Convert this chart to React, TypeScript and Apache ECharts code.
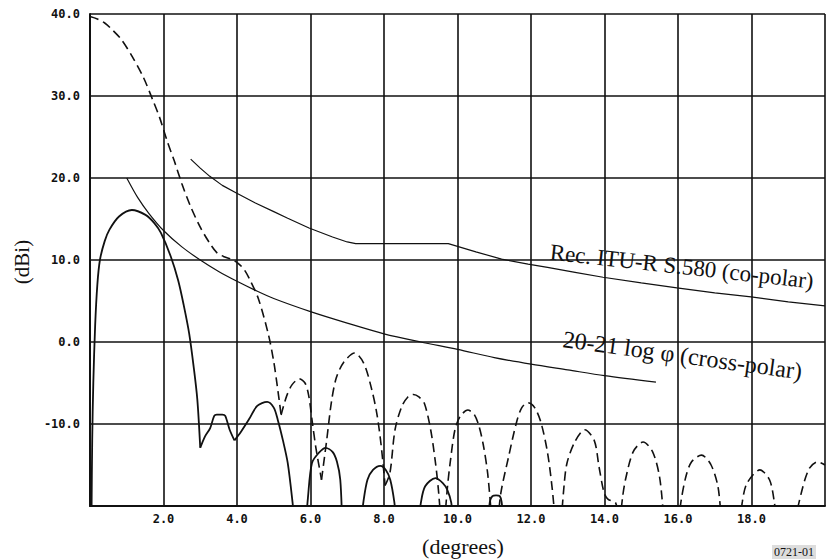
import React, { useEffect, useRef } from "react";
import * as echarts from "echarts";

type Pt = [number, number];

// Axis ranges (degrees off-axis, gain in dBi)
const xRange: Pt = [0, 20];
const yRange: Pt = [-20, 40];
const xStep = 2;
const yStep = 10;

// Rec. ITU-R S.580 co-polar envelope
const coPolarMask: Pt[] = [
  [2.74, 22.3], [3.0, 21.2], [3.26, 20.2], [3.6, 19.1], [3.97, 18.2],
  [4.5, 16.95], [5.0, 15.9], [5.38, 15.1], [5.96, 13.9], [6.6, 12.8],
  [7.0, 12.2], [7.23, 12.0], [9.75, 12.0], [10.5, 11.0], [11.2, 10.1],
  [11.92, 9.5], [12.45, 9.1], [13.2, 8.5], [13.96, 7.9], [15.0, 7.2],
  [15.97, 6.6], [17.0, 6.0], [17.99, 5.5], [19.0, 4.9], [20.0, 4.4],
];

// 20-21 log phi cross-polar envelope
const crossPolarMask: Pt[] = [
  [1.0, 20.0], [1.3, 17.6], [1.6, 15.7], [2.0, 13.6], [2.5, 11.6],
  [3.0, 10.0], [3.5, 8.6], [4.0, 7.4], [4.5, 6.3], [5.0, 5.3],
  [6.0, 3.7], [7.0, 2.3], [8.0, 1.0], [9.0, 0.0], [10.0, -0.9],
  [11.0, -1.9], [12.0, -2.7], [13.0, -3.4], [14.0, -4.1], [15.4, -4.9],
];

// Measured co-polar pattern (dashed), one list per lobe between nulls
const coPolarLobes: Pt[][] = [
  [
    [0, 39.7], [0.2, 39.4], [0.4, 38.9], [0.6, 38.1], [0.85, 36.9], [1.15, 34.8],
    [1.45, 32.3], [1.7, 29.6], [1.9, 27.3], [2.1, 24.5], [2.3, 22.0],
    [2.5, 19.3], [2.73, 16.6], [3.0, 14.0], [3.25, 12.1], [3.45, 10.9],
    [3.65, 10.4], [3.85, 10.1], [4.03, 9.6], [4.2, 8.8], [4.35, 7.6],
    [4.58, 5.3], [4.85, 1.0], [5.0, -2.4], [5.1, -5.5], [5.2, -8.9],
  ],
  [
    [5.2, -8.9], [5.35, -6.6], [5.5, -5.2], [5.7, -4.5], [5.85, -5.0],
    [5.95, -6.5], [6.05, -9.8], [6.15, -13.0], [6.3, -16.8],
  ],
  [
    [6.3, -16.8], [6.44, -12.0], [6.57, -7.3], [6.7, -4.4], [6.9, -2.5],
    [7.2, -1.35], [7.45, -2.6], [7.65, -5.5], [7.8, -8.6], [7.92, -12.5],
    [8.03, -17.5],
  ],
  [
    [8.03, -17.5], [8.16, -16.0], [8.3, -10.7], [8.48, -7.9], [8.65, -6.7],
    [8.8, -6.4], [8.95, -6.7], [9.1, -7.5], [9.27, -10.7], [9.4, -14.7],
    [9.48, -18.0], [9.55, -22.0],
  ],
  [
    [9.65, -22.0], [9.72, -18.0], [9.8, -14.75], [9.93, -10.7], [10.07, -9.1],
    [10.28, -8.3], [10.45, -8.8], [10.58, -10.2], [10.7, -12.5], [10.82, -16.0],
    [10.92, -21.0],
  ],
  [
    [11.1, -22.0], [11.18, -18.4], [11.39, -14.0], [11.6, -9.9], [11.75, -8.0],
    [11.92, -7.4], [12.1, -8.0], [12.27, -9.8], [12.45, -13.5], [12.58, -18.0],
    [12.66, -22.0],
  ],
  [
    [12.82, -22.0], [12.9, -17.5], [12.98, -14.75], [13.19, -12.2], [13.46, -10.7],
    [13.72, -12.0], [13.85, -15.2], [13.99, -18.4], [14.1, -19.2], [14.3, -19.6],
    [14.4, -22.0],
  ],
  [
    [14.42, -22.0], [14.49, -19.0], [14.57, -16.8], [14.78, -13.4], [15.05, -12.2],
    [15.31, -13.4], [15.5, -16.5], [15.6, -21.0],
  ],
  [
    [16.02, -22.0], [16.08, -19.5], [16.21, -16.5], [16.37, -14.6], [16.64, -13.8],
    [16.9, -15.0], [17.09, -17.7], [17.18, -22.0],
  ],
  [
    [17.7, -22.0], [17.75, -19.5], [17.88, -17.2], [18.23, -15.6], [18.49, -16.8],
    [18.62, -19.5], [18.68, -22.0],
  ],
  [
    [19.2, -22.0], [19.28, -19.8], [19.55, -15.6], [19.8, -14.6], [20.0, -15.0],
  ],
];

// Measured cross-polar pattern (solid), one list per lobe between nulls
const crossPolarLobes: Pt[][] = [
  [
    [0.04, -22.0], [0.06, -12.0], [0.09, -5.0], [0.14, 2.0], [0.2, 7.0],
    [0.27, 10.0], [0.4, 12.3], [0.53, 13.7], [0.79, 15.3], [1.14, 16.1],
    [1.51, 15.5], [1.75, 14.5], [1.93, 13.3], [2.2, 10.4], [2.4, 7.5],
    [2.55, 4.5], [2.7, 1.0], [2.82, -3.0], [2.92, -7.0], [3.0, -12.9],
  ],
  [
    [3.0, -12.9], [3.13, -11.5], [3.27, -10.5], [3.38, -9.0], [3.45, -8.85],
    [3.6, -8.85], [3.68, -9.0], [3.8, -10.7], [3.93, -12.0],
  ],
  [
    [3.93, -12.0], [4.1, -11.0], [4.33, -9.4], [4.55, -7.8], [4.82, -7.3],
    [5.0, -8.0], [5.11, -9.5], [5.25, -12.0], [5.38, -14.75], [5.51, -19.5],
    [5.56, -22.0],
  ],
  [
    [5.88, -22.0], [5.93, -19.0], [6.04, -14.75], [6.23, -13.5], [6.41, -12.9],
    [6.6, -13.4], [6.72, -14.6], [6.81, -16.8], [6.86, -22.0],
  ],
  [
    [7.38, -22.0], [7.44, -19.5], [7.55, -16.8], [7.7, -15.6], [7.9, -15.1],
    [8.05, -15.6], [8.17, -16.8], [8.28, -19.5], [8.33, -22.0],
  ],
  [
    [8.95, -22.0], [9.0, -19.7], [9.12, -17.6], [9.4, -16.6], [9.6, -17.2],
    [9.72, -18.0], [9.83, -19.6], [9.87, -22.0],
  ],
  [
    [10.84, -22.0], [10.88, -19.5], [10.95, -18.8], [11.05, -18.7], [11.15, -18.8],
    [11.2, -19.5], [11.25, -22.0],
  ],
];

const ink = "#111";
const serif = '"Liberation Serif", "Times New Roman", serif';
const plotter = '"DejaVu Sans Mono", monospace';

function lineSeries(data: Pt[], width: number, dashed: boolean, smooth: number) {
  return {
    type: "line",
    data,
    showSymbol: false,
    symbol: "none",
    smooth,
    clip: true,
    silent: true,
    lineStyle: { color: ink, width, type: dashed ? [9, 5] : "solid" },
  };
}

export default function App() {
  const ref = useRef<HTMLDivElement>(null);

  useEffect(() => {
    if (!ref.current) return;
    const chart = echarts.init(ref.current, undefined, { renderer: "svg" });

    const series: any[] = [
      lineSeries(coPolarMask, 1.2, false, 0),
      lineSeries(crossPolarMask, 1.2, false, 0.3),
      ...coPolarLobes.map((lobe) => lineSeries(lobe, 1.6, true, 0.3)),
      ...crossPolarLobes.map((lobe) => lineSeries(lobe, 1.8, false, 0.3)),
    ];

    chart.setOption({
      animation: false,
      backgroundColor: "#fff",
      grid: { left: 90, top: 14, width: 755, height: 492, show: false },
      xAxis: {
        type: "value",
        min: xRange[0],
        max: xRange[1],
        interval: xStep,
        axisLine: { show: true, onZero: false, lineStyle: { color: ink, width: 2 } },
        axisTick: { show: false },
        splitLine: { show: true, lineStyle: { color: ink, width: 1.6 } },
        axisLabel: {
          color: ink,
          fontFamily: plotter,
          fontSize: 12,
          fontWeight: "bold",
          margin: 7,
          formatter: (v: number) => (v === xRange[0] || v === xRange[1] ? "" : v.toFixed(1)),
        },
      },
      yAxis: {
        type: "value",
        min: yRange[0],
        max: yRange[1],
        interval: yStep,
        axisLine: { show: true, onZero: false, lineStyle: { color: ink, width: 2 } },
        axisTick: { show: false },
        splitLine: { show: true, lineStyle: { color: ink, width: 1.6 } },
        axisLabel: {
          color: ink,
          fontFamily: plotter,
          fontSize: 12,
          fontWeight: "bold",
          margin: 10,
          formatter: (v: number) => (v === yRange[0] ? "" : v.toFixed(1)),
        },
      },
      series,
      graphic: [
        {
          type: "text",
          x: 22,
          y: 262,
          rotation: Math.PI / 2,
          style: { text: "(dBi)", font: `21px ${serif}`, fill: ink, align: "center", verticalAlign: "middle" },
        },
        {
          type: "text",
          x: 463,
          y: 546,
          style: { text: "(degrees)", font: `22px ${serif}`, fill: ink, align: "center", verticalAlign: "middle" },
        },
        {
          type: "text",
          x: 550,
          y: 252,
          rotation: -0.11,
          style: { text: "Rec. ITU-R S.580 (co-polar)", font: `23px ${serif}`, fill: ink, align: "left", verticalAlign: "middle" },
        },
        {
          type: "text",
          x: 563,
          y: 339,
          rotation: -0.135,
          style: { text: "20-21 log \u03c6 (cross-polar)", font: `24px ${serif}`, fill: ink, align: "left", verticalAlign: "middle" },
        },
        {
          type: "text",
          x: 772,
          y: 545,
          style: {
            text: "0721-01",
            font: `12px ${serif}`,
            fill: ink,
            align: "left",
            verticalAlign: "top",
            backgroundColor: "#ddd",
            padding: [1, 2],
          },
        },
      ],
    });

    return () => chart.dispose();
  }, []);

  return (
    <div
      ref={ref}
      style={{ position: "absolute", left: 0, top: 0, width: 828, height: 560, background: "#fff" }}
    />
  );
}
